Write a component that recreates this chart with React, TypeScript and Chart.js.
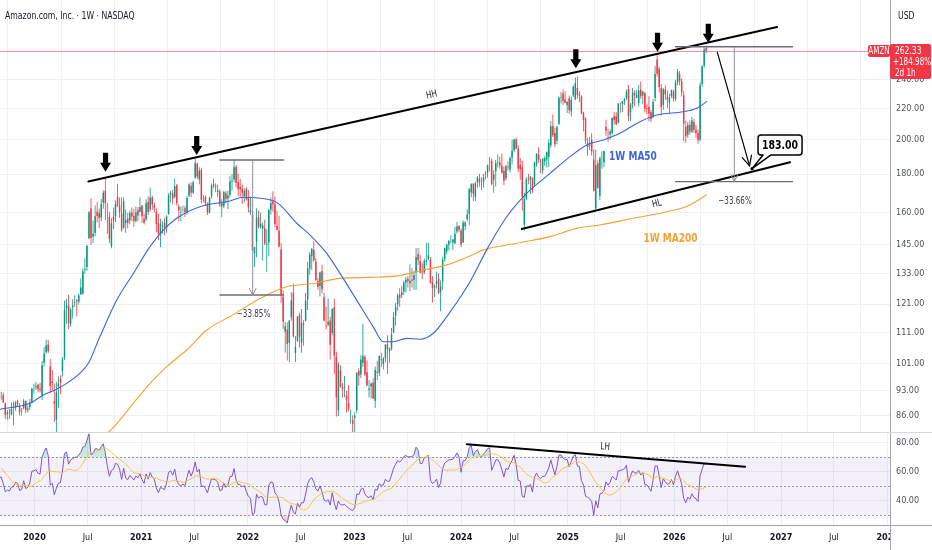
import React, { useEffect, useRef } from "react";
import { Chart, registerables } from "chart.js";

Chart.register(...registerables);

const FONT = "'Liberation Sans Narrow', 'DejaVu Sans Condensed', 'Liberation Sans', Arial, sans-serif";

// ---------------- DATA ----------------
// Weekly bars start on this Monday (the first ones sit left of the visible range and only warm up the RSI)
const FIRST_BAR = "2019-03-04";

// weekly candles: [open, high, low, close]
const candles2019 = [
  [83.6,84.7,80.4,81.0],[81.5,85.9,81.3,85.6],[85.6,89.7,85.2,88.2],[88.8,89.9,86.8,89.0],[90.3,92.1,89.3,91.8],
  [91.7,92.9,91.0,92.2],[92.6,93.5,91.8,93.2],[93.3,98.2,93.0,97.5],[97.5,98.9,94.7,98.1],[96.2,97.9,91.6,94.5],
  [92.7,95.6,91.1,93.5],[92.9,94.5,90.4,91.2],[91.5,91.9,88.6,88.8],[88.6,91.0,84.3,90.2],[91.4,94.3,91.0,93.5],
  [94.0,96.3,93.6,95.6],[95.6,96.6,93.0,94.7],[96.2,97.8,95.5,97.1],[96.6,101.1,96.5,100.6],[100.8,101.3,97.6,98.2],
  [99.4,101.1,96.5,97.2],[97.9,98.2,89.8,91.2],[88.8,91.9,87.6,90.4],[89.9,91.5,88.0,89.6],[90.0,91.6,87.1,87.5],
  [87.5,89.4,86.7,88.8],[88.6,92.1,88.2,91.7],[92.0,92.6,90.4,92.0],[91.6,92.3,89.5,89.7],[89.4,89.6,85.2,86.3],
  [86.5,87.6,85.0,87.0],[86.7,87.9,85.2,86.6],[86.4,89.6,86.1,87.9],[88.4,89.8,83.6,88.1],[88.3,90.0,87.4,89.6],
  [90.0,90.4,88.4,89.3],[88.6,89.4,86.1,87.0],[87.4,88.1,86.1,87.3],[88.0,90.6,87.7,90.0],[90.1,90.2,86.8,87.6],
  [87.5,88.8,86.9,88.0],[88.3,90.6,87.6,89.3],[89.7,93.6,89.4,93.5],[93.7,94.9,92.1,93.7],
];
const candles2020 = [
  [93.9,95.5,93.2,94.2],[94.6,94.9,92.4,93.3],[93.4,95.2,92.4,93.1],[91.5,101.8,90.3,100.4],[101.2,106.2,100.0,104.0],
  [104.5,108.5,104.0,106.7],[107.0,108.5,104.2,104.8],[100.0,102.4,92.3,94.2],[95.5,99.0,93.0,95.1],[90.0,95.0,84.4,89.3],
  [85.0,95.5,81.3,92.4],[94.0,97.0,88.2,95.0],[96.3,97.4,92.0,95.3],[98.6,103.0,97.0,102.1],[102.8,122.4,102.0,118.8],
  [119.5,123.0,114.0,120.5],[120.5,124.5,112.2,114.3],[114.0,119.8,113.0,119.0],[119.8,122.8,115.8,120.5],[121.5,124.3,120.0,121.8],
  [122.5,122.9,116.6,122.1],[121.9,125.0,120.9,124.2],[124.6,131.0,124.5,127.3],[125.0,134.9,124.6,133.8],[134.3,139.2,132.8,134.6],
  [135.5,145.0,134.0,144.5],[148.0,160.8,147.5,160.0],[162.0,167.2,145.0,148.1],[148.8,156.2,145.8,150.0],[150.3,163.5,148.7,158.2],
  [160.5,165.3,155.3,158.4],[159.8,162.0,152.7,157.4],[157.6,166.8,155.9,164.3],[165.0,171.3,161.9,170.0],[171.0,177.6,156.4,164.7],
  [156.0,164.8,150.0,155.8],[158.0,160.4,145.8,147.7],[144.5,157.3,143.5,154.8],[157.8,162.4,152.1,156.3],[158.2,166.0,155.5,164.3],
  [168.0,174.8,162.7,163.6],[163.5,167.5,157.5,160.2],[159.6,167.5,151.0,151.8],[152.8,167.7,152.3,165.6],[155.0,161.5,150.5,156.4],
  [157.1,159.8,152.5,155.0],[156.2,161.1,154.3,159.8],[160.1,162.5,155.8,158.1],[158.3,161.9,153.1,155.8],[156.1,163.0,155.2,160.1],
  [161.2,162.8,155.9,158.6],[160.4,167.5,160.2,162.8],
];
const candles2021 = [
  [163.5,163.6,155.0,158.2],[157.2,159.5,154.3,155.2],[156.8,166.7,156.0,164.6],[165.3,168.2,158.8,160.3],[161.6,172.6,160.5,167.6],
  [167.5,168.5,161.3,163.9],[163.5,164.9,160.0,162.5],[160.2,162.0,150.7,154.6],[155.0,159.5,147.1,150.0],[149.5,157.0,144.1,154.5],
  [153.5,155.9,150.0,153.7],[155.0,157.5,149.3,152.6],[152.9,158.7,150.5,158.1],[159.4,169.8,159.0,168.6],[169.0,171.0,165.0,170.0],
  [169.5,171.6,164.0,167.0],[167.8,177.7,167.0,173.4],[174.0,174.6,163.5,164.6],[163.0,164.2,155.8,161.1],[160.0,163.0,156.0,160.2],
  [161.5,163.5,160.0,161.5],[162.1,163.4,157.9,160.3],[159.9,168.4,159.0,167.3],[168.5,175.0,168.0,174.3],[173.6,175.5,167.8,170.1],
  [170.0,176.4,169.5,175.5],[178.0,188.7,177.5,186.0],[185.9,186.5,177.3,178.7],[177.0,183.7,174.5,181.9],[182.2,183.5,164.5,166.4],
  [167.3,168.8,165.0,167.2],[167.8,168.6,163.4,164.7],[164.6,165.0,158.8,160.0],[160.0,168.0,159.6,167.5],[168.0,174.9,167.0,173.9],
  [174.5,177.4,172.4,173.5],[173.4,175.0,170.3,173.1],[170.5,174.2,168.0,171.3],[170.8,171.7,162.8,164.2],[163.0,166.7,157.7,164.5],
  [163.4,171.0,162.2,170.4],[169.7,170.9,164.7,166.8],[167.0,171.0,161.6,168.6],[169.0,178.9,167.6,175.9],[176.0,180.0,171.0,176.3],
  [177.0,188.1,175.5,183.8],[184.0,185.1,172.7,175.2],[175.5,180.0,168.2,171.8],[173.0,177.4,168.0,171.8],[172.0,174.4,164.3,170.0],
  [168.3,172.4,165.0,171.0],[172.0,172.9,166.0,166.7],
];
const candles2022 = [
  [167.6,171.4,160.0,162.6],[160.0,167.9,158.8,161.2],[159.0,160.5,142.3,142.6],[141.4,144.0,135.4,144.0],[146.4,162.2,139.6,157.6],
  [157.8,161.0,152.4,153.3],[153.0,160.0,152.2,154.7],[152.4,155.2,138.2,153.8],[152.5,156.6,144.8,145.6],[145.0,152.0,133.6,145.5],
  [146.0,162.0,140.0,161.3],[161.4,167.5,159.0,164.8],[165.5,170.8,160.4,164.1],[164.2,168.0,153.0,154.5],[153.7,160.9,151.5,151.7],
  [151.5,158.3,143.8,144.3],[143.0,145.9,121.4,124.3],[123.8,126.2,112.2,114.8],[111.3,114.6,104.4,113.1],[112.0,114.5,101.9,107.1],
  [107.5,115.2,101.3,115.1],[116.3,125.6,115.0,122.4],[125.2,128.9,109.3,109.7],[104.2,109.8,101.4,106.2],[108.2,116.7,107.8,116.5],
  [117.1,117.9,105.9,109.6],[107.6,119.2,104.3,114.3],[114.1,115.2,106.6,113.6],[115.0,125.2,114.8,122.4],[122.7,137.7,118.9,135.0],
  [134.9,142.0,132.4,140.8],[140.1,143.6,134.3,143.2],[142.7,146.6,137.7,138.2],[137.7,139.3,130.1,130.2],[129.9,131.2,126.4,127.5],
  [127.9,133.7,123.9,133.3],[133.9,136.5,125.0,126.5],[123.6,125.2,114.8,115.1],[113.3,120.0,112.1,113.0],[113.6,123.0,113.2,114.6],
  [115.1,116.3,102.2,106.9],[110.8,119.4,110.0,119.3],[119.9,123.0,97.7,103.4],[103.0,104.6,85.9,91.0],[87.5,101.4,86.0,100.8],
  [98.8,100.4,93.7,94.1],[93.8,95.1,90.9,93.4],[93.9,97.2,91.1,94.1],[91.6,92.9,86.9,90.4],[89.4,94.5,87.2,87.9],
  [85.3,87.7,84.0,85.3],[84.9,86.2,81.4,84.0],
];
const candles2023 = [
  [85.5,87.0,81.7,86.1],[87.5,98.3,86.7,98.1],[98.7,99.5,94.4,97.3],[97.6,103.5,96.6,102.2],[101.2,114.0,99.9,103.4],
  [102.9,103.6,97.1,97.6],[98.3,101.9,94.2,94.4],[93.2,96.0,91.0,93.5],[94.1,95.3,90.8,94.9],[95.2,96.5,90.6,90.7],
  [90.1,100.0,88.1,99.0],[98.4,101.8,96.0,98.1],[98.1,103.5,97.2,103.3],[102.3,104.2,99.8,102.1],[100.8,103.0,99.1,102.5],
  [102.5,107.0,101.3,107.0],[107.0,110.0,97.8,105.5],[104.9,106.0,101.2,105.7],[105.6,112.5,105.0,110.3],[111.0,118.2,110.7,116.3],
  [116.8,121.5,113.4,120.1],[121.0,125.0,118.6,124.3],[124.5,127.0,120.0,123.4],[124.4,128.0,123.3,125.5],[125.8,130.0,124.3,129.3],
  [129.2,131.5,125.4,130.4],[130.8,131.9,127.3,129.8],[129.0,136.7,125.9,130.0],[130.5,135.0,127.3,130.0],[130.3,134.0,126.3,132.2],
  [133.2,143.6,126.4,139.6],[141.0,143.6,136.3,138.4],[138.0,140.6,132.9,133.2],[133.7,137.1,130.6,133.3],[133.4,139.0,132.6,138.1],
  [137.7,145.9,136.2,138.2],[138.8,145.9,138.3,140.4],[138.7,139.7,128.8,129.1],[129.4,131.8,121.6,127.1],[127.3,128.5,123.7,128.0],
  [128.8,133.7,126.8,129.8],[130.7,133.0,124.7,125.2],[125.6,130.1,118.4,127.7],[129.7,139.7,126.4,138.6],[138.8,143.8,137.8,143.6],
  [142.1,145.5,140.8,145.2],[145.1,147.2,142.5,146.7],[147.0,149.3,145.6,147.0],[146.0,147.6,142.8,147.4],[145.7,153.4,145.3,150.0],
  [151.0,155.6,149.9,153.4],[153.6,154.0,150.7,151.9],
];
const candles2024 = [
  [151.5,152.4,144.1,145.2],[146.0,156.2,145.8,155.2],[153.5,155.8,151.6,155.3],[156.9,161.7,155.8,159.1],[159.3,172.5,154.0,171.8],
  [170.2,175.0,167.8,174.5],[174.8,175.0,165.6,169.5],[167.8,175.8,165.8,175.0],[175.7,178.9,172.6,178.2],[177.5,180.1,173.2,175.4],
  [174.3,178.2,171.5,174.4],[175.8,180.0,172.8,178.2],[180.1,181.7,177.0,180.4],[180.8,185.2,178.0,185.1],[186.9,189.8,181.5,186.5],
  [187.4,188.7,173.9,174.6],[176.9,181.9,170.0,179.6],[181.6,187.9,173.3,186.2],[186.3,191.1,183.6,186.6],[186.4,189.7,183.1,184.7],
  [184.6,191.7,180.1,180.8],[181.7,184.1,174.0,176.4],[177.7,185.0,176.5,184.3],[184.1,187.2,182.0,183.7],[182.5,189.9,180.9,189.1],
  [189.3,199.8,185.3,193.3],[193.5,200.4,192.6,200.0],[200.0,201.2,194.1,194.5],[194.6,196.6,181.0,183.1],[185.0,189.0,176.8,182.5],
  [183.8,187.5,161.0,167.9],[154.2,170.0,151.6,166.9],[167.1,178.3,166.2,177.1],[177.6,180.0,174.5,177.0],[176.7,178.9,169.4,178.5],
  [177.6,178.4,169.7,171.4],[174.5,187.0,173.4,186.5],[185.3,191.8,184.0,191.6],[191.1,195.4,186.3,188.0],[187.1,188.4,180.4,186.5],
  [182.1,188.8,180.1,188.8],[187.1,190.0,184.6,189.0],[188.1,192.7,183.6,192.7],[189.6,200.2,183.9,197.9],[196.5,211.6,195.0,208.2],
  [208.5,215.9,201.6,202.6],[204.0,207.3,195.3,197.1],[199.3,208.2,197.0,207.9],[209.9,228.0,209.0,227.0],[227.2,231.2,223.2,227.5],
  [230.2,233.0,222.2,224.9],[226.0,231.8,223.4,223.8],[222.1,225.0,216.9,224.2],
];
const candles2025 = [
  [226.8,228.8,216.2,218.9],[218.1,228.0,214.6,225.9],[228.9,236.1,227.7,234.9],[226.2,241.8,225.5,237.7],[234.1,242.5,226.5,229.2],
  [229.6,231.8,224.2,228.7],[228.0,229.0,216.0,216.6],[217.0,217.7,205.0,212.3],[213.4,214.0,197.4,199.3],[195.6,200.8,190.3,198.0],
  [197.0,201.5,193.5,196.2],[200.0,203.8,190.5,192.7],[188.2,194.0,170.7,171.0],[162.0,193.8,161.4,184.9],[186.0,187.7,172.0,172.6],
  [168.5,189.9,166.3,189.0],[190.0,193.0,183.0,190.0],[186.6,193.0,183.7,193.1],[208.0,212.5,202.3,205.6],[201.1,206.6,198.7,201.0],
  [203.1,206.2,200.0,205.0],[204.0,214.0,202.5,213.6],[214.7,217.5,209.2,212.1],[214.5,217.4,208.9,209.7],[210.7,223.3,210.0,223.3],
  [223.5,224.0,217.1,223.4],[223.0,225.0,217.6,225.0],[225.1,227.0,222.2,226.1],[227.0,233.0,225.9,231.4],[233.3,236.3,211.4,214.8],
  [217.4,223.6,211.6,222.7],[222.9,234.1,219.8,231.0],[230.7,232.4,221.3,228.8],[227.0,232.8,227.0,229.0],[223.5,236.2,221.0,232.3],
  [233.0,238.8,226.5,228.2],[228.7,232.0,222.7,231.5],[230.3,231.3,217.3,219.8],[220.0,222.8,216.2,219.5],[220.9,228.3,211.4,216.4],
  [217.3,218.9,211.0,213.0],[214.0,226.3,213.4,224.2],[227.0,250.5,224.6,244.2],[255.4,258.6,242.5,244.4],[248.3,250.0,231.0,234.7],
  [234.0,237.0,215.2,220.7],[222.2,234.0,219.0,233.2],[233.2,236.0,225.6,229.5],[228.0,232.3,220.0,226.2],[224.0,230.0,216.5,227.4],
  [228.5,233.0,227.0,232.4],[231.5,233.0,224.5,226.5],
];
const candles2026 = [
  [226.5,240.0,225.0,238.0],[238.0,248.0,236.0,246.0],[244.0,246.5,236.0,239.0],[239.0,241.0,228.0,231.0],[229.0,232.0,199.0,210.0],
  [208.0,212.0,198.0,202.0],[203.0,211.0,201.0,209.0],[209.0,212.0,203.0,205.0],[205.0,214.0,204.0,212.0],[211.0,213.0,204.0,206.0],
  [206.0,209.0,201.0,204.0],[204.0,206.0,197.5,199.5],[200.0,238.0,199.0,236.0],[237.0,251.0,235.0,250.0],[250.5,265.0,249.0,263.5],
  [264.5,266.5,260.0,262.33],
];

// moving averages: [decimal year, price]
const MA50_PTS = [
  [2019.60,87.4],[2019.677,87.8],[2019.958,89.4],[2020.083,91.7],[2020.192,93.1],[2020.302,95.0],[2020.427,98.0],[2020.505,101.0],
  [2020.614,109.6],[2020.771,122.5],[2020.927,132.9],[2021.083,144.2],[2021.208,151.7],[2021.334,157.3],[2021.552,162.9],
  [2021.833,165.8],[2021.958,167.7],[2022.239,165.9],[2022.302,163.8],[2022.459,154.9],[2022.584,149.4],[2022.740,141.3],
  [2022.865,132.9],[2023.021,122.5],[2023.177,112.9],[2023.271,107.9],[2023.365,107.9],[2023.490,109.0],[2023.615,108.7],
  [2023.740,110.7],[2023.896,118.1],[2024.084,129.6],[2024.240,142.8],[2024.428,158.0],[2024.615,169.7],[2024.834,180.4],
  [2025.022,189.8],[2025.178,196.7],[2025.334,199.7],[2025.490,203.8],[2025.647,210.1],[2025.835,215.5],[2026.084,217.7],
  [2026.210,220.0],[2026.309,224.9],
];
const MA200_PTS = [
  [2020.614,80.5],[2020.708,82.2],[2020.927,89.4],[2021.083,95.0],[2021.240,100.0],[2021.427,105.2],[2021.615,111.8],
  [2021.833,116.5],[2022.146,123.8],[2022.365,127.6],[2022.614,128.9],[2022.865,130.9],[2023.146,131.3],[2023.397,131.9],
  [2023.646,134.3],[2023.866,136.4],[2024.084,140.2],[2024.209,142.8],[2024.522,145.7],[2024.834,148.7],[2025.084,152.5],
  [2025.303,154.1],[2025.615,157.3],[2025.928,160.4],[2026.147,163.8],[2026.303,169.0],
];

const SYMBOL = "AMZN";
const LAST_PRICE = 262.33;
const LAST_CHANGE = "+184.98%";
const COUNTDOWN = "2d 1h";
const TARGET_PRICE = 183.0;

const PRICE_TICKS = [86, 93, 101, 111, 121, 133, 145, 160, 180, 200, 220, 240];
const RSI_TICKS = [40, 60, 80];
const RSI_LEVELS = [70, 50, 30];
const TIME_TICKS = [
  ["2020-01-01","2020"],["2020-07-01","Jul"],["2021-01-01","2021"],["2021-07-01","Jul"],
  ["2022-01-01","2022"],["2022-07-01","Jul"],["2023-01-01","2023"],["2023-07-01","Jul"],
  ["2024-01-01","2024"],["2024-07-01","Jul"],["2025-01-01","2025"],["2025-07-01","Jul"],
  ["2026-01-01","2026"],["2026-07-01","Jul"],["2027-01-01","2027"],["2027-07-01","Jul"],
  ["2028-01-01","2028"],
];

// annotation anchors in data space: [decimal year, price] (RSI value for LH)
const HH_LINE = [[2020.505,175.9],[2026.963,282.0]];
const HL_LINE = [[2024.569,152.2],[2027.085,186.6]];
const HH_LABEL = [2023.725,229.1];
const HL_LABEL = [2025.837,164.3];
const TOP_ARROWS = [[2020.666,181.3],[2021.521,190.8],[2025.076,248.6],[2025.842,261.5],[2026.318,268.8]];
const DROP_1 = { x0: 2021.735, x1: 2022.340, xv: 2022.046, top: 187.9, bottom: 124.4, label: "\u221233.85%", at: [2022.054,117.4] };
const DROP_2 = { x0: 2026.006, x1: 2027.113, xv: 2026.562, top: 265.5, bottom: 175.9, label: "\u221233.66%", at: [2026.569,165.8] };
const PROJECTION = [[2026.403,261.0],[2026.705,184.5]];
const TARGET_AT = [2026.728, TARGET_PRICE];
const TARGET_BOX = [2026.991,196.7];
const MA50_LABEL = [2025.612,189.6];
const MA200_LABEL = [2025.964,147.6];
const LH_LINE = [[2024.053,78.8],[2026.663,63.4]];
const LH_LABEL = [2025.350,77.0];

// axis ranges
const X_MIN = 2019.6765, X_MAX = 2028.022;
const Y_MIN = 81.9, Y_MAX = 306.2;
const RSI_MIN = 23.45, RSI_MAX = 87.26;

// ---------------- STYLE ----------------
const UP = "#089981";
const DOWN = "#f23645";
const GRID = "#eef0f4";
const AXIS = "#a3a6af";
const TEXT = "#131722";
const MA50_COLOR = "#3d63dd";
const MA200_COLOR = "#f5a030";
const SQUEEZE = 0.8; // horizontal squeeze of the annotation text (reference uses a narrow face)

// ---------------- derived ----------------
const DAY = 86400000;
function decYear(t: number) {
  const y = new Date(t).getUTCFullYear();
  const a = Date.UTC(y, 0, 1), b = Date.UTC(y + 1, 0, 1);
  return y + (t - a) / (b - a);
}
function isoDec(s: string) {
  const [y, m, d] = s.split("-").map(Number);
  return decYear(Date.UTC(y, m - 1, d));
}
const CANDLES = [...candles2019, ...candles2020, ...candles2021, ...candles2022, ...candles2023, ...candles2024, ...candles2025, ...candles2026];
const T0 = Date.parse(FIRST_BAR + "T00:00:00Z");
const BAR_X = CANDLES.map((_, i) => decYear(T0 + i * 7 * DAY));
const UP_FLAGS = CANDLES.map((c) => c[3] >= c[0]);
const CLOSES = CANDLES.map((c) => c[3]);
const TIME_VALS = TIME_TICKS.map((t) => isoDec(t[0]));

function rsiSeries(cl: number[], n: number) {
  const out: (number | null)[] = cl.map(() => null);
  let g = 0, l = 0;
  for (let i = 1; i <= n; i++) {
    const d = cl[i] - cl[i - 1];
    if (d > 0) g += d; else l -= d;
  }
  let ag = g / n, al = l / n;
  out[n] = al === 0 ? 100 : 100 - 100 / (1 + ag / al);
  for (let i = n + 1; i < cl.length; i++) {
    const d = cl[i] - cl[i - 1];
    ag = (ag * (n - 1) + Math.max(d, 0)) / n;
    al = (al * (n - 1) + Math.max(-d, 0)) / n;
    out[i] = al === 0 ? 100 : 100 - 100 / (1 + ag / al);
  }
  return out;
}
function smaSeries(v: (number | null)[], n: number) {
  return v.map((_, i) => {
    if (i < n - 1) return null;
    let s = 0;
    for (let k = i - n + 1; k <= i; k++) {
      if (v[k] == null) return null;
      s += v[k] as number;
    }
    return s / n;
  });
}
const RSI = rsiSeries(CLOSES, 14);
const RSI_MA = smaSeries(RSI, 14);

// ---------------- drawing helpers ----------------
function seg(ctx: any, x1: number, y1: number, x2: number, y2: number) {
  ctx.beginPath();
  ctx.moveTo(x1, y1);
  ctx.lineTo(x2, y2);
  ctx.stroke();
}
function rrect(ctx: any, x: number, y: number, w: number, h: number, r: number) {
  ctx.beginPath();
  ctx.moveTo(x + r, y);
  ctx.lineTo(x + w - r, y);
  ctx.arcTo(x + w, y, x + w, y + r, r);
  ctx.lineTo(x + w, y + h - r);
  ctx.arcTo(x + w, y + h, x + w - r, y + h, r);
  ctx.lineTo(x + r, y + h);
  ctx.arcTo(x, y + h, x, y + h - r, r);
  ctx.lineTo(x, y + r);
  ctx.arcTo(x, y, x + r, y, r);
  ctx.closePath();
}
function text(ctx: any, s: string, x: number, y: number, ang = 0) {
  ctx.save();
  ctx.translate(x, y);
  if (ang) ctx.rotate(ang);
  ctx.scale(SQUEEZE, 1);
  ctx.fillText(s, 0, 0);
  ctx.restore();
}

const mainOverlay = {
  id: "mainOverlay",
  beforeDatasetsDraw(chart: any) {
    const { ctx, chartArea: ca, scales } = chart;
    const py = Math.round(scales.y.getPixelForValue(LAST_PRICE)) + 0.5;
    ctx.save();
    ctx.strokeStyle = "rgba(242,54,69,0.55)";
    ctx.lineWidth = 1;
    seg(ctx, ca.left, py, ca.right, py);
    ctx.restore();
  },
  afterDatasetsDraw(chart: any) {
    const { ctx, scales } = chart;
    const X = (v: number) => scales.x.getPixelForValue(v);
    const Y = (v: number) => scales.y.getPixelForValue(v);
    const P = (p: number[]) => [X(p[0]), Y(p[1])];
    ctx.save();
    ctx.lineCap = "round";

    // trend lines
    ctx.strokeStyle = "#000";
    ctx.lineWidth = 2;
    const [h1, h2] = [P(HH_LINE[0]), P(HH_LINE[1])];
    seg(ctx, h1[0], h1[1], h2[0], h2[1]);
    const [l1, l2] = [P(HL_LINE[0]), P(HL_LINE[1])];
    seg(ctx, l1[0], l1[1], l2[0], l2[1]);

    ctx.fillStyle = TEXT;
    ctx.font = `10px ${FONT}`;
    ctx.textAlign = "center";
    ctx.textBaseline = "middle";
    const hp = P(HH_LABEL);
    text(ctx, "HH", hp[0], hp[1], Math.atan2(h2[1] - h1[1], h2[0] - h1[0]));
    const lp = P(HL_LABEL);
    text(ctx, "HL", lp[0], lp[1], Math.atan2(l2[1] - l1[1], l2[0] - l1[0]));

    // down arrows on the tops
    ctx.fillStyle = "#000";
    for (const a of TOP_ARROWS) {
      const [cx, ty] = P(a);
      ctx.beginPath();
      ctx.moveTo(cx, ty);
      ctx.lineTo(cx - 5.5, ty - 9);
      ctx.lineTo(cx - 2.6, ty - 9);
      ctx.lineTo(cx - 2.6, ty - 19);
      ctx.lineTo(cx + 2.6, ty - 19);
      ctx.lineTo(cx + 2.6, ty - 9);
      ctx.lineTo(cx + 5.5, ty - 9);
      ctx.closePath();
      ctx.fill();
    }

    // drop measurements
    for (const d of [DROP_1, DROP_2]) {
      const xl = X(d.x0), xr = X(d.x1), xv = X(d.xv), yt = Y(d.top), yb = Y(d.bottom);
      ctx.lineCap = "butt";
      ctx.strokeStyle = "#6a6d78";
      ctx.lineWidth = 1.4;
      seg(ctx, xl, yt, xr, yt);
      seg(ctx, xl, yb, xr, yb);
      ctx.strokeStyle = "#8c8f99";
      ctx.lineWidth = 1;
      seg(ctx, xv, yt, xv, yb);
      seg(ctx, xv - 3.5, yb - 7, xv, yb);
      seg(ctx, xv + 3.5, yb - 7, xv, yb);
      ctx.fillStyle = "#3a3d46";
      ctx.font = `10px ${FONT}`;
      ctx.textAlign = "center";
      const tp = P(d.at);
      text(ctx, d.label, tp[0], tp[1]);
    }

    // projected path to target
    ctx.lineCap = "round";
    ctx.strokeStyle = "#000";
    ctx.lineWidth = 1.2;
    const [p1, p2] = [P(PROJECTION[0]), P(PROJECTION[1])];
    seg(ctx, p1[0], p1[1], p2[0], p2[1]);
    const ang = Math.atan2(p2[1] - p1[1], p2[0] - p1[0]);
    for (const s of [-0.45, 0.45]) {
      seg(ctx, p2[0], p2[1], p2[0] - 11 * Math.cos(ang + s), p2[1] - 11 * Math.sin(ang + s));
    }

    // target callout
    const [ax, ay] = P(TARGET_AT);
    const [bcx, bcy] = P(TARGET_BOX);
    const w = 44, h = 20, r = 3;
    const bx = bcx - w / 2, by = bcy - h / 2;
    ctx.beginPath();
    ctx.moveTo(bx + r, by);
    ctx.lineTo(bx + w - r, by);
    ctx.arcTo(bx + w, by, bx + w, by + r, r);
    ctx.lineTo(bx + w, by + h - r);
    ctx.arcTo(bx + w, by + h, bx + w - r, by + h, r);
    ctx.lineTo(bx + 13, by + h);
    ctx.lineTo(ax, ay);
    ctx.lineTo(bx + 5, by + h);
    ctx.lineTo(bx + r, by + h);
    ctx.arcTo(bx, by + h, bx, by + h - r, r);
    ctx.lineTo(bx, by + r);
    ctx.arcTo(bx, by, bx + r, by, r);
    ctx.closePath();
    ctx.fillStyle = "#fff";
    ctx.fill();
    ctx.lineJoin = "round";
    ctx.strokeStyle = "#000";
    ctx.lineWidth = 1.5;
    ctx.stroke();
    ctx.fillStyle = "#000";
    ctx.beginPath();
    ctx.arc(ax, ay, 1.6, 0, Math.PI * 2);
    ctx.fill();
    ctx.font = `bold 13px ${FONT}`;
    ctx.textAlign = "center";
    ctx.textBaseline = "middle";
    text(ctx, TARGET_PRICE.toFixed(2), bcx, bcy + 0.5);

    // MA labels
    ctx.font = `bold 12.5px ${FONT}`;
    ctx.fillStyle = MA50_COLOR;
    const m50 = P(MA50_LABEL);
    text(ctx, "1W MA50", m50[0], m50[1]);
    ctx.fillStyle = MA200_COLOR;
    const m200 = P(MA200_LABEL);
    text(ctx, "1W MA200", m200[0], m200[1]);
    ctx.restore();
  },
  afterDraw(chart: any) {
    const { ctx, chartArea: ca, scales } = chart;
    const py = Math.round(scales.y.getPixelForValue(LAST_PRICE));
    ctx.save();
    ctx.fillStyle = "#f23645";
    rrect(ctx, ca.right - 22, py - 6, 22, 12, 2);
    ctx.fill();
    rrect(ctx, ca.right, py - 7, 41, 35, 2);
    ctx.fill();
    ctx.fillStyle = "#fff";
    ctx.textBaseline = "middle";
    ctx.textAlign = "center";
    ctx.font = `10px ${FONT}`;
    text(ctx, SYMBOL, ca.right - 11, py);
    ctx.textAlign = "left";
    ctx.font = `10.5px ${FONT}`;
    text(ctx, LAST_PRICE.toFixed(2), ca.right + 5, py);
    ctx.font = `10px ${FONT}`;
    text(ctx, LAST_CHANGE, ca.right + 3, py + 11.5);
    text(ctx, COUNTDOWN, ca.right + 5, py + 22.5);
    ctx.restore();
  },
};

const rsiOverlay = {
  id: "rsiOverlay",
  beforeDatasetsDraw(chart: any) {
    const { ctx, chartArea: ca, scales } = chart;
    const Y = (v: number) => scales.y.getPixelForValue(v);
    ctx.save();
    ctx.fillStyle = "rgba(126,87,194,0.09)";
    ctx.fillRect(ca.left, Y(70), ca.right - ca.left, Y(30) - Y(70));
    ctx.strokeStyle = "rgba(120,123,134,0.75)";
    ctx.lineWidth = 1;
    ctx.setLineDash([2, 2]);
    for (const lv of RSI_LEVELS) {
      const y = Math.round(Y(lv)) + 0.5;
      seg(ctx, ca.left, y, ca.right, y);
    }
    ctx.restore();
  },
  afterDatasetsDraw(chart: any) {
    const { ctx, scales } = chart;
    const P = (p: number[]) => [scales.x.getPixelForValue(p[0]), scales.y.getPixelForValue(p[1])];
    ctx.save();
    ctx.strokeStyle = "#000";
    ctx.lineWidth = 2;
    ctx.lineCap = "round";
    const [a, b] = [P(LH_LINE[0]), P(LH_LINE[1])];
    seg(ctx, a[0], a[1], b[0], b[1]);
    ctx.fillStyle = TEXT;
    ctx.font = `10px ${FONT}`;
    ctx.textAlign = "center";
    ctx.textBaseline = "middle";
    const lp = P(LH_LABEL);
    text(ctx, "LH", lp[0], lp[1], Math.atan2(b[1] - a[1], b[0] - a[0]));
    ctx.restore();
  },
  afterDraw(chart: any) {
    const { ctx, chartArea: ca, width, height } = chart;
    ctx.save();
    ctx.fillStyle = "#fff";
    ctx.fillRect(ca.right + 1, ca.bottom + 1, width - ca.right, height - ca.bottom);
    ctx.strokeStyle = AXIS;
    ctx.lineWidth = 1;
    seg(ctx, ca.right + 0.5, 0, ca.right + 0.5, height);
    seg(ctx, 0, ca.bottom + 0.5, width, ca.bottom + 0.5);
    ctx.strokeStyle = "#d6d8de";
    seg(ctx, 0, 0.5, width, 0.5);
    ctx.restore();
  },
};

export default function App() {
  const mainRef = useRef<HTMLCanvasElement>(null);
  const rsiRef = useRef<HTMLCanvasElement>(null);

  useEffect(() => {
    document.body.style.margin = "0";
    Chart.defaults.font.family = FONT;
    const colorOf = (c: any) => (UP_FLAGS[c.dataIndex] ? UP : DOWN);

    const main = new Chart(mainRef.current as HTMLCanvasElement, {
      type: "bar",
      data: {
        datasets: [
          {
            type: "line",
            data: MA50_PTS.map(([x, y]) => ({ x, y })),
            borderColor: MA50_COLOR,
            borderWidth: 1.1,
            pointRadius: 0,
            cubicInterpolationMode: "monotone",
            order: 0,
          },
          {
            type: "line",
            data: MA200_PTS.map(([x, y]) => ({ x, y })),
            borderColor: MA200_COLOR,
            borderWidth: 1.1,
            pointRadius: 0,
            cubicInterpolationMode: "monotone",
            order: 0,
          },
          {
            data: CANDLES.map((c, i) => ({ x: BAR_X[i], y: [c[2], c[1]] })),
            backgroundColor: colorOf,
            grouped: false,
            maxBarThickness: 0.8,
            order: 2,
          },
          {
            data: CANDLES.map((c, i) => ({ x: BAR_X[i], y: [c[0], c[3]] })),
            backgroundColor: colorOf,
            grouped: false,
            maxBarThickness: 1.5,
            order: 1,
          },
        ] as any,
      },
      options: {
        responsive: false,
        animation: false,
        events: [],
        layout: { padding: 0 },
        plugins: { legend: { display: false }, tooltip: { enabled: false } },
        scales: {
          x: {
            type: "linear",
            min: X_MIN,
            max: X_MAX,
            offset: false,
            grid: { color: GRID, drawTicks: false },
            border: { display: false },
            ticks: { display: false },
            afterBuildTicks: (s: any) => { s.ticks = TIME_VALS.map((v) => ({ value: v })); },
            afterFit: (s: any) => { s.height = 0; s.paddingLeft = 0; s.paddingRight = 0; },
          },
          y: {
            type: "logarithmic",
            position: "right",
            min: Y_MIN,
            max: Y_MAX,
            grid: { color: GRID, drawTicks: false },
            border: { display: true, color: AXIS },
            ticks: {
              padding: 6,
              color: "#50535e",
              font: { size: 9 },
              autoSkip: false,
              callback: (v: any) => Number(v).toFixed(2),
            },
            afterBuildTicks: (s: any) => { s.ticks = PRICE_TICKS.map((v) => ({ value: v })); },
            afterFit: (s: any) => { s.width = 42; s.paddingTop = 0; s.paddingBottom = 0; },
          },
        },
      } as any,
      plugins: [mainOverlay],
    });

    const rsiPts = RSI.map((v, i) => ({ x: BAR_X[i], y: v }));
    const rsiMaPts = RSI_MA.map((v, i) => ({ x: BAR_X[i], y: v }));
    const rsi = new Chart(rsiRef.current as HTMLCanvasElement, {
      type: "line",
      data: {
        datasets: [
          {
            data: rsiMaPts,
            borderColor: "#f2c744",
            borderWidth: 1,
            pointRadius: 0,
            order: 0,
          },
          {
            data: rsiPts,
            borderColor: "#7e57c2",
            borderWidth: 1,
            pointRadius: 0,
            fill: { target: { value: 70 }, above: "rgba(8,153,129,0.22)", below: "rgba(0,0,0,0)" },
            order: 1,
          },
          {
            data: rsiPts,
            borderColor: "rgba(0,0,0,0)",
            borderWidth: 0,
            pointRadius: 0,
            fill: { target: { value: 30 }, above: "rgba(0,0,0,0)", below: "rgba(242,54,69,0.22)" },
            order: 2,
          },
        ] as any,
      },
      options: {
        responsive: false,
        animation: false,
        events: [],
        layout: { padding: 0 },
        plugins: { legend: { display: false }, tooltip: { enabled: false } },
        scales: {
          x: {
            type: "linear",
            min: X_MIN,
            max: X_MAX,
            offset: false,
            grid: { color: GRID, drawTicks: false },
            border: { display: false },
            ticks: {
              padding: 7,
              autoSkip: false,
              maxRotation: 0,
              color: TEXT,
              font: (c: any) => ({ size: 9, weight: TIME_TICKS[c.index] && TIME_TICKS[c.index][1] !== "Jul" ? "bold" : "normal" }),
              callback: (_v: any, i: number) => (TIME_TICKS[i] ? TIME_TICKS[i][1] : ""),
            },
            afterBuildTicks: (s: any) => { s.ticks = TIME_VALS.map((v) => ({ value: v })); },
            afterFit: (s: any) => { s.height = 25; s.paddingLeft = 0; s.paddingRight = 0; },
          },
          y: {
            type: "linear",
            position: "right",
            min: RSI_MIN,
            max: RSI_MAX,
            grid: { color: GRID, drawTicks: false },
            border: { display: true, color: AXIS },
            ticks: {
              padding: 6,
              color: "#50535e",
              font: { size: 9 },
              callback: (v: any) => Number(v).toFixed(2),
            },
            afterBuildTicks: (s: any) => { s.ticks = RSI_TICKS.map((v) => ({ value: v })); },
            afterFit: (s: any) => { s.width = 42; s.paddingTop = 0; s.paddingBottom = 0; },
          },
        },
      } as any,
      plugins: [rsiOverlay],
    });

    return () => {
      main.destroy();
      rsi.destroy();
    };
  }, []);

  return (
    <div style={{ position: "relative", width: 932, height: 550, background: "#fff", overflow: "hidden", fontFamily: FONT }}>
      <canvas ref={mainRef} width={932} height={432} style={{ position: "absolute", left: 0, top: 0 }} />
      <canvas ref={rsiRef} width={932} height={118} style={{ position: "absolute", left: 0, top: 432 }} />
      <div
        style={{
          position: "absolute", left: 5, top: 9, fontSize: 10.5, lineHeight: "12px", color: TEXT,
          whiteSpace: "nowrap", transform: "scaleX(0.82)", transformOrigin: "left center",
        }}
      >
        Amazon.com, Inc. · 1W · NASDAQ
      </div>
      <div
        style={{
          position: "absolute", left: 898, top: 9, fontSize: 10.5, lineHeight: "12px", color: TEXT,
          transform: "scaleX(0.82)", transformOrigin: "left center",
        }}
      >
        USD
      </div>
    </div>
  );
}
